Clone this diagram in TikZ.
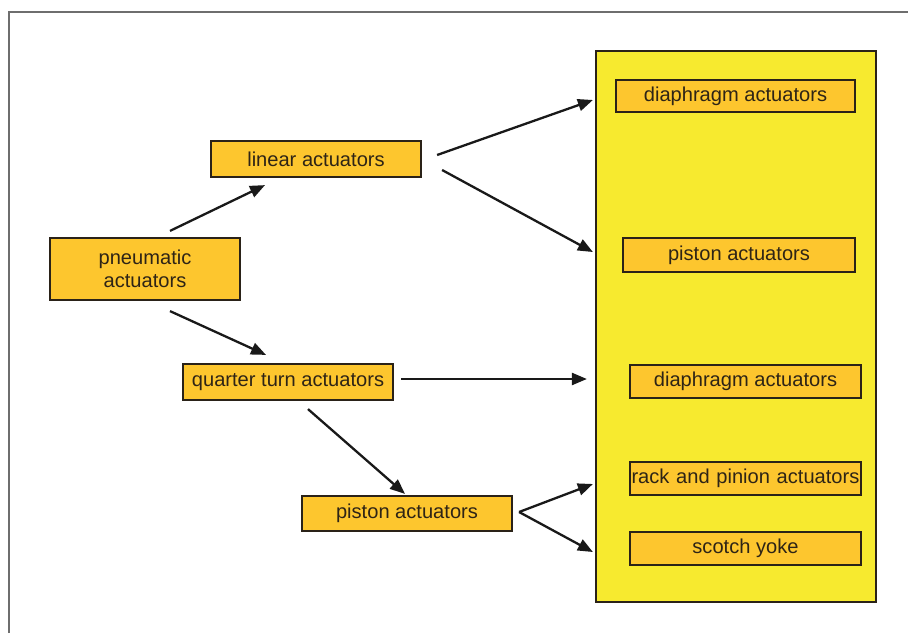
\documentclass[tikz,border=0pt]{standalone}
\usepackage{fontspec}
\setmainfont{Liberation Sans}
\usetikzlibrary{arrows.meta,calc}
\definecolor{boxfill}{HTML}{FDC62E}
\definecolor{bigfill}{HTML}{F7EA2F}
\definecolor{edge}{HTML}{2A2218}
\definecolor{txt}{HTML}{2E2416}
\definecolor{framegray}{HTML}{6E6E6E}
\tikzset{
  abox/.style={draw=edge, line width=2.2pt, fill=boxfill, rectangle, inner sep=0pt,
    font=\fontsize{20.1}{23.5}\selectfont, text=txt, align=center},
  bigbox/.style={draw=edge, line width=2.2pt, fill=bigfill, rectangle, inner sep=0pt},
  arr/.style={draw=black!90, line width=2.3pt, -{Triangle[length=15pt,width=12pt]}}
}
\begin{document}
\begin{tikzpicture}[x=1pt,y=-1pt]
\useasboundingbox (0,0) rectangle (908,633);
\draw[framegray, line width=1.6pt] (9,633) -- (9,12) -- (908,12);

\node[bigbox, minimum width=280pt, minimum height=551pt] (big) at (736,326.5) {};

\node[abox, minimum width=239pt, minimum height=32pt] (dia1) at (735.5,96) {diaphragm actuators};
\node[abox, minimum width=232pt, minimum height=34pt] (pis1) at (739,255) {piston actuators};
\node[abox, minimum width=231pt, minimum height=33pt] (dia2) at (745.5,381.5) {diaphragm actuators};
\node[abox, minimum width=231pt, minimum height=33pt, text width=231pt] (rack) at (745.5,478.5) {rack and pinion actuators};
\node[abox, minimum width=231pt, minimum height=33pt] (scotch) at (745.5,548.5) {scotch yoke};

\node[abox, minimum width=190pt, minimum height=62pt] (pneu) at (145,269) {pneumatic\\[-1pt]actuators};
\node[abox, minimum width=210pt, minimum height=36pt] (lin) at (316,159) {linear actuators};
\node[abox, minimum width=210pt, minimum height=36pt] (qt) at (288,382) {quarter turn actuators};
\node[abox, minimum width=210pt, minimum height=35pt] (pisL) at (407,513.5) {piston actuators};

\draw[arr] ($(pneu.north)+(25,-6)$) -- ($(lin.south)+(-51,7)$);
\draw[arr] ($(pneu.south)+(25,10)$) -- ($(qt.north)+(-22,-8)$);
\draw[arr] ($(lin.east)+(15,-4)$) -- ($(dia1.west)+(-22,4)$);
\draw[arr] ($(lin.east)+(20,11)$) -- ($(pis1.west)+(-29,-3)$);
\draw[arr] ($(qt.east)+(7,-3)$) -- ($(dia2.west)+(-42,-2.5)$);
\draw[arr] ($(qt.south)+(20,8)$) -- ($(pisL.north)+(-2,-1)$);
\coordinate (fork) at ($(pisL.east)+(6,-1.5)$);
\draw[arr] (fork) -- ($(rack.west)+(-36,5.5)$);
\draw[arr] (fork) -- ($(scotch.west)+(-36,3.5)$);
\end{tikzpicture}
\end{document}
